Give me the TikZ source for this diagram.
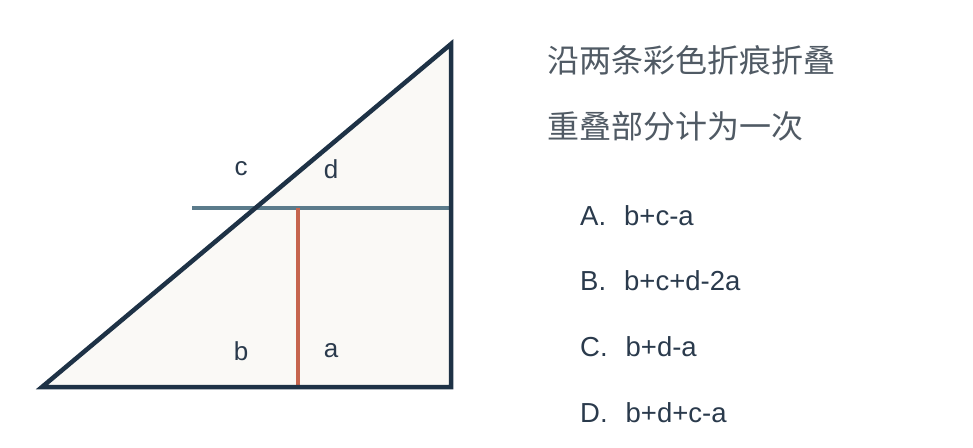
\documentclass[tikz,border=0pt]{standalone}
\usepackage{fontspec}
\setmainfont{Liberation Sans}
\newfontfamily\cjk{Noto Sans CJK SC}
\definecolor{edgecol}{HTML}{1E3246}
\definecolor{foldblue}{HTML}{5B7B8B}
\definecolor{foldred}{HTML}{C6654E}
\definecolor{paper}{HTML}{FAF9F6}
\definecolor{textgray}{HTML}{505A64}
\definecolor{optcol}{HTML}{2A3A4C}

\begin{document}
\begin{tikzpicture}[x=1pt,y=-1pt,
	lbl/.style={font=\fontsize{26}{30}\selectfont, text=optcol, inner sep=0pt},
	hint/.style={font=\cjk\fontsize{32}{36}\selectfont, text=textgray, anchor=west, inner sep=0pt},
	choice/.style={font=\fontsize{27.5}{32}\selectfont, text=optcol, anchor=west, inner sep=0pt}]
	\useasboundingbox (0,0) rectangle (973,447);

	% corners of the paper
	\coordinate (bl) at (42,387);
	\coordinate (br) at (451,387);
	\coordinate (tr) at (451,44);
	\coordinate (foldl) at (192,208);
	\coordinate (foldr) at (451,208);
	\coordinate (redtop) at (298,208);
	\coordinate (redbot) at (298,387);

	\fill [paper] (bl) -- (br) -- (tr) -- cycle;

	% fold lines
	\draw [foldblue, line width=3.8pt] (foldl) -- (foldr);
	\draw [foldred, line width=3.8pt] (redtop) -- (redbot);

	\draw [edgecol, line width=4.5pt, line join=miter] (bl) -- (br) -- (tr) -- cycle;

	% region labels
	\node [lbl] (c) at (241,169) {c};
	\node [lbl] (d) at (331,169) {d};
	\node [lbl] (b) at (241,351) {b};
	\node [lbl] (a) at (331,351) {a};

	% question
	\node [hint] (q1) at (547,60) {沿两条彩色折痕折叠};
	\node [hint] (q2) at (547,126) {重叠部分计为一次};

	% answers
	\node [choice] (optA) at (580,216) {A.\hspace{18pt}b+c-a};
	\node [choice] (optB) at (580,281) {B.\hspace{18pt}b+c+d-2a};
	\node [choice] (optC) at (580,347) {C.\hspace{18pt}b+d-a};
	\node [choice] (optD) at (580,413) {D.\hspace{18pt}b+d+c-a};
\end{tikzpicture}
\end{document}
